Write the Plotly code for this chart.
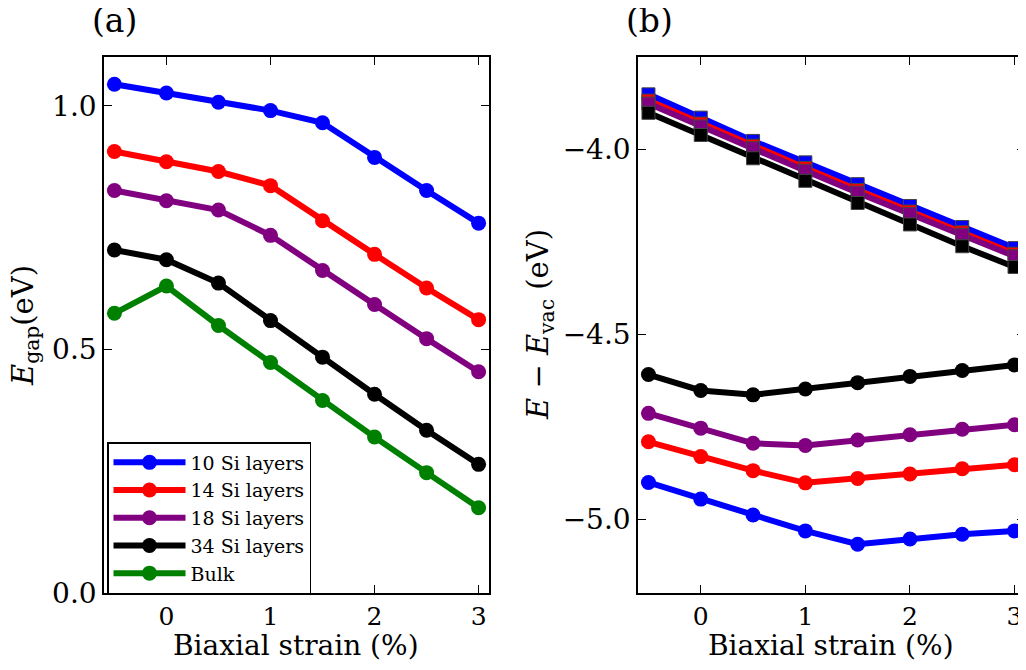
import plotly.graph_objects as go

strain = [-0.5, 0.0, 0.5, 1.0, 1.5, 2.0, 2.5, 3.0]

# Panel (a): band gap
gap_10 = [1.044, 1.026, 1.007, 0.990, 0.965, 0.894, 0.826, 0.759]
gap_14 = [0.906, 0.885, 0.865, 0.836, 0.764, 0.695, 0.626, 0.561]
gap_18 = [0.826, 0.805, 0.786, 0.734, 0.662, 0.592, 0.522, 0.454]
gap_34 = [0.704, 0.684, 0.636, 0.559, 0.484, 0.408, 0.334, 0.264]
gap_bulk = [0.574, 0.630, 0.549, 0.473, 0.395, 0.320, 0.247, 0.175]

# Panel (b): band edges relative to vacuum
cb_10 = [-3.851, -3.914, -3.977, -4.035, -4.094, -4.153, -4.210, -4.267]
cb_14 = [-3.868, -3.930, -3.990, -4.050, -4.110, -4.168, -4.224, -4.282]
cb_18 = [-3.876, -3.938, -3.997, -4.058, -4.117, -4.175, -4.231, -4.289]
cb_34 = [-3.901, -3.961, -4.024, -4.085, -4.145, -4.203, -4.262, -4.318]
vb_10 = [-4.901, -4.946, -4.989, -5.032, -5.068, -5.054, -5.041, -5.032]
vb_14 = [-4.791, -4.831, -4.869, -4.902, -4.890, -4.878, -4.864, -4.853]
vb_18 = [-4.714, -4.754, -4.795, -4.801, -4.786, -4.772, -4.757, -4.745]
vb_34 = [-4.609, -4.652, -4.664, -4.648, -4.631, -4.614, -4.598, -4.583]

labels = ["10 Si layers", "14 Si layers", "18 Si layers", "34 Si layers", "Bulk"]
colors = ["#0000ff", "#ff0000", "#800080", "#000000", "#008000"]

FONT = "DejaVu Serif"
W, H = 1018, 654          # page body has an 8px margin
OFF = 8
PLOT_TOP, PLOT_BOT = 57, 593   # window pixels


def px(xw):
    return (xw - OFF) / W


def py(yw):
    return (PLOT_BOT - yw) / (PLOT_BOT - PLOT_TOP)


fig = go.Figure()

for lab, col, ys in zip(labels, colors, [gap_10, gap_14, gap_18, gap_34, gap_bulk]):
    fig.add_trace(go.Scatter(
        x=strain, y=ys, mode="lines+markers", name=lab,
        line=dict(color=col, width=6),
        marker=dict(color=col, size=15, symbol="circle", line=dict(width=0)),
        xaxis="x", yaxis="y", showlegend=True))

for col, ys in zip(colors[:4], [cb_10, cb_14, cb_18, cb_34]):
    fig.add_trace(go.Scatter(
        x=strain, y=ys, mode="lines+markers",
        line=dict(color=col, width=6),
        marker=dict(color=col, size=13, symbol="square", line=dict(width=1, color="#444444")),
        xaxis="x2", yaxis="y2", showlegend=False))

for col, ys in zip(colors[:4], [vb_10, vb_14, vb_18, vb_34]):
    fig.add_trace(go.Scatter(
        x=strain, y=ys, mode="lines+markers",
        line=dict(color=col, width=6),
        marker=dict(color=col, size=15, symbol="circle", line=dict(width=0)),
        xaxis="x2", yaxis="y2", showlegend=False))

axis_common = dict(showline=True, linecolor="black", linewidth=1.5, mirror="allticks",
                   ticks="inside", ticklen=8, tickwidth=1.2, tickcolor="black",
                   showgrid=False, zeroline=False)
xtick_font = dict(family=FONT, size=25, color="black")
ytick_font = dict(family=FONT, size=28, color="black")

fig.update_layout(
    width=W, height=H,
    margin=dict(l=0, r=0, t=PLOT_TOP - OFF, b=H - (PLOT_BOT - OFF), pad=0),
    paper_bgcolor="white", plot_bgcolor="white",
    font=dict(family=FONT, color="black"),
    xaxis=dict(domain=[px(104), px(489)], range=[-0.6, 3.1], tickvals=[0, 1, 2, 3],
               tickfont=xtick_font, **axis_common),
    yaxis=dict(domain=[0, 1], range=[0, 1.1], tickvals=[0, 0.5, 1.0],
               ticktext=["0.0", "0.5", "1.0"], tickfont=ytick_font, **axis_common),
    xaxis2=dict(domain=[px(638), px(1025)], range=[-0.6, 3.1], tickvals=[0, 1, 2, 3],
                anchor="y2", tickfont=xtick_font, **axis_common),
    yaxis2=dict(domain=[0, 1], range=[-5.2, -3.75], tickvals=[-5.0, -4.5, -4.0],
                ticktext=["\u22125.0", "\u22124.5", "\u22124.0"], anchor="x2",
                tickfont=ytick_font, **axis_common),
    legend=dict(x=px(107), y=py(442), xanchor="left", yanchor="top",
                xref="paper", yref="paper",
                bgcolor="white", bordercolor="black", borderwidth=1.5,
                font=dict(family=FONT, size=19), itemwidth=72, tracegroupgap=0),
)

TITLE_FONT = dict(family=FONT, size=29, color="black")
XTITLE_FONT = dict(family=FONT, size=28, color="black")
LABEL_FONT = dict(family=FONT, size=33, color="black")
fig.add_annotation(text="<i>E</i><sub>gap</sub>(eV)", x=px(25), y=py(326),
                   xref="paper", yref="paper", xanchor="center", yanchor="middle",
                   textangle=-90, showarrow=False, font=TITLE_FONT)
fig.add_annotation(text="<i>E</i> \u2212 <i>E</i><sub>vac</sub> (eV)", x=px(540), y=py(325),
                   xref="paper", yref="paper", xanchor="center", yanchor="middle",
                   textangle=-90, showarrow=False, font=TITLE_FONT)
fig.add_annotation(text="Biaxial strain (%)", x=px(296), y=py(645),
                   xref="paper", yref="paper", xanchor="center", yanchor="middle",
                   showarrow=False, font=XTITLE_FONT)
fig.add_annotation(text="Biaxial strain (%)", x=px(831), y=py(645),
                   xref="paper", yref="paper", xanchor="center", yanchor="middle",
                   showarrow=False, font=XTITLE_FONT)
fig.add_annotation(text="(a)", x=px(114), y=py(21), xref="paper", yref="paper",
                   xanchor="center", yanchor="middle",
                   showarrow=False, font=LABEL_FONT)
fig.add_annotation(text="(b)", x=px(649), y=py(21), xref="paper", yref="paper",
                   xanchor="center", yanchor="middle",
                   showarrow=False, font=LABEL_FONT)

fig.write_html("out.html")
